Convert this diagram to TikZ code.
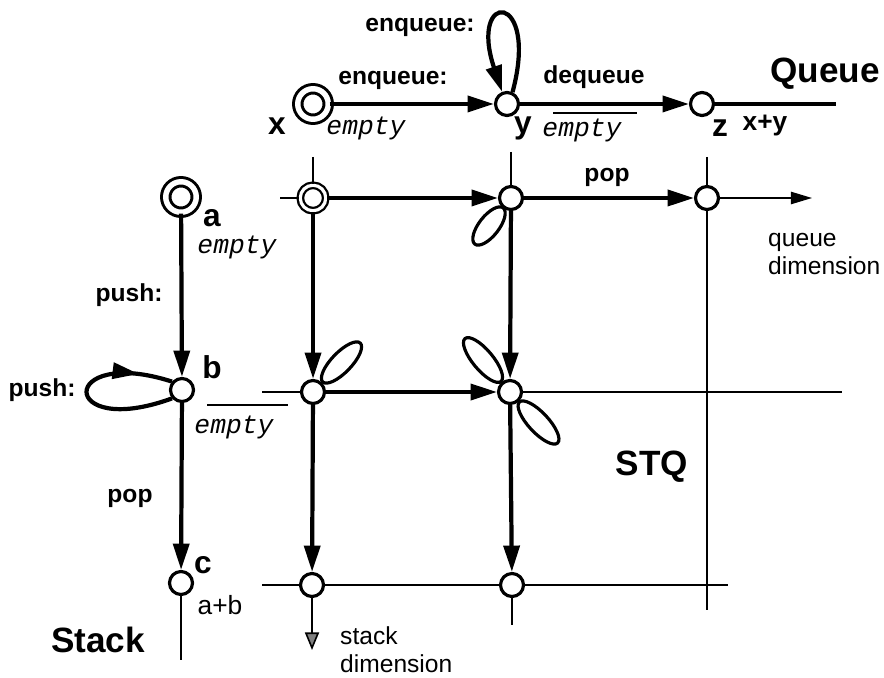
\documentclass[tikz,border=0pt]{standalone}
\usepackage{fontspec}
\setmainfont{Liberation Sans}
\setmonofont{Liberation Mono}
\usetikzlibrary{arrows.meta,decorations.markings}

\begin{document}
\begin{tikzpicture}[x=0.02cm, y=-0.02cm,
		>={Triangle[length=15pt,width=9pt]},
		st/.style={circle, draw, fill=white, line width=1.8pt, inner sep=0pt, minimum size=0.46cm},
		acc/.style={st, line width=1.7pt, double, double distance=3.1pt, minimum size=0.61cm},
		gacc/.style={st, line width=1.3pt, double, double distance=1.8pt, minimum size=0.51cm},
		tr/.style={->, line width=2.4pt},
		gl/.style={line width=0.9pt},
		petal/.style={line width=1.8pt},
		lab/.style={font=\fontsize{14}{16}\selectfont\bfseries},
		nm/.style={font=\fontsize{18}{20}\selectfont\bfseries},
		big/.style={font=\fontsize{20}{22}\selectfont\bfseries},
		emp/.style={font=\fontsize{15}{17}\selectfont\ttfamily\itshape},
		dim/.style={font=\fontsize{14}{16}\selectfont, align=left, anchor=west}]
		\useasboundingbox (0,0) rectangle (884,678);
		% queue automaton
		\node[acc] (qx) at (313,104) {};
		\node[st] (qy) at (507,104) {};
		\node[st] (qz) at (702,104) {};
		\coordinate (qend) at (836,104);
		\draw[tr] (qx) -- (qy);
		\draw[tr] (qy) -- (qz);
		\draw[line width=1.8pt] (qz) -- (qend);
		\draw[tr] (qy.65) .. controls (540,-10) and (468,-10) .. (qy.112);
		\node[lab] (lenq1) at (420,27) {enqueue:};
		\node[lab] (lenq2) at (393,80) {enqueue:};
		\node[lab] (ldeq) at (594,77) {dequeue};
		\node[nm] (nx) at (277,126) {x};
		\node[emp] (ex) at (366,128) {empty};
		\node[nm] (ny) at (523,128) {y};
		\node[emp] (ey) at (582,130) {empty};
		\draw[line width=0.8pt] (553,113) -- (637,113);
		\node[nm] (nz) at (720,128) {z};
		\node[lab, font=\fontsize{15}{17}\selectfont\bfseries] (nxy) at (765,126) {x+y};
		\node[big] (lqueue) at (825,74) {Queue};
		% stack automaton
		\node[acc] (sa) at (181,197) {};
		\node[st] (sb) at (182,390) {};
		\node[st] (sc) at (181,583) {};
		\coordinate (send) at (181,660);
		\draw[tr] (sa) -- (sb);
		\draw[tr] (sb) -- (sc);
		\draw[line width=1.4pt] (sc) -- (send);
		\draw[line width=2.4pt, postaction={decorate},
			decoration={markings, mark=at position 0.82 with {\arrow{>}}}]
			(sb.220) .. controls (58,440) and (58,345) .. (sb.140);
		\node[nm] (na) at (212,218) {a};
		\node[emp] (ea) at (237,247) {empty};
		\node[lab] (lpush1) at (129,295) {push:};
		\node[nm] (nb) at (212,367) {b};
		\node[lab] (lpush2) at (42,390) {push:};
		\node[emp] (eb) at (234,427) {empty};
		\draw[line width=0.8pt] (207,405) -- (288,405);
		\node[lab] (lpop1) at (130,498) {pop};
		\node[nm] (nc) at (203,565) {c};
		\node[font=\fontsize{15}{17}\selectfont] (nab) at (220,605) {a+b};
		\node[big] (lstack) at (98,640) {Stack};
		% product STQ
		\node[gacc] (gxa) at (313,198) {};
		\node[st] (gya) at (511,198) {};
		\node[st] (gza) at (707,198) {};
		\node[st] (gxb) at (313,392) {};
		\node[st] (gyb) at (510,392) {};
		\node[st] (gxc) at (312,585) {};
		\node[st] (gyc) at (512,585) {};
		\coordinate (xtop) at (313,157);
		\coordinate (ytop) at (511,152);
		\coordinate (ztop) at (707,157);
		\coordinate (zbot) at (707,610);
		\coordinate (xbot) at (312,650);
		\coordinate (ybot) at (512,625);
		\coordinate (aleft) at (280,198);
		\coordinate (aright) at (812,198);
		\coordinate (bleft) at (262,392);
		\coordinate (bright) at (842,392);
		\coordinate (cleft) at (262,585);
		\coordinate (cright) at (728,585);
		% grid lines
		\draw[gl] (xtop) -- (gxa);
		\draw[gl] (ytop) -- (gya);
		\draw[gl] (ztop) -- (gza) -- (zbot);
		\draw[gl] (aleft) -- (gxa);
		\draw[gl, -{Triangle[length=12pt,width=7pt]}] (gza) -- (aright);
		\draw[gl] (bleft) -- (gxb);
		\draw[gl] (gyb) -- (bright);
		\draw[gl] (cleft) -- (gxc) -- (gyc) -- (cright);
		\draw[gl, -{Triangle[length=10pt,width=8pt,fill=gray]}] (gxc) -- (xbot);
		\draw[line width=1.4pt] (gyc) -- (ybot);
		% product transitions
		\draw[tr] (gxa) -- (gya);
		\draw[tr] (gya) -- (gza);
		\draw[tr] (gxa) -- (gxb);
		\draw[tr] (gxb) -- (gxc);
		\draw[tr] (gya) -- (gyb);
		\draw[tr] (gyb) -- (gyc);
		\draw[tr] (gxb) -- (gyb);
		% self loops
		\draw[petal, rotate around={232:(489,226)}] (489,226) ellipse [x radius=23, y radius=10];
		\draw[petal, rotate around={46:(341.5,362.5)}] (341.5,362.5) ellipse [x radius=27, y radius=10];
		\draw[petal, rotate around={130:(483,360)}] (483,360) ellipse [x radius=28, y radius=10];
		\draw[petal, rotate around={-47:(538.5,422.5)}] (538.5,422.5) ellipse [x radius=28, y radius=10];
		\node[lab] (lpop2) at (607,177) {pop};
		\node[big] (lstq) at (652,467) {STQ};
		\node[dim] (lqd) at (762,254) {queue\\dimension};
		\node[dim] (lsd) at (334,650) {stack\\dimension};
\end{tikzpicture}
\end{document}
